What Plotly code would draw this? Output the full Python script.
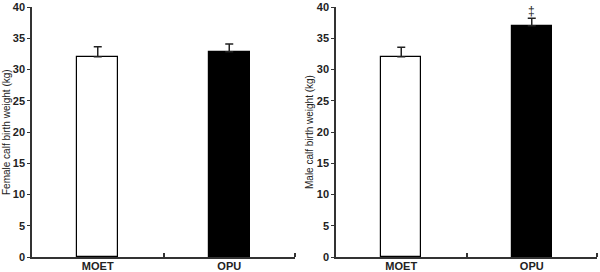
import plotly.graph_objects as go

categories = ["MOET", "OPU"]
female_means = [32.05, 32.85]
female_sem = [1.6, 1.25]
male_means = [32.05, 37.0]
male_sem = [1.5, 1.2]
bar_colors = ["white", "black"]
y_ticks = [0, 5, 10, 15, 20, 25, 30, 35, 40]
sig_label = "‡"

W, H = 600, 272
y_top_px, y_bot_px = 7, 257
ydom = [(H - y_bot_px) / H, (H - y_top_px) / H]
xdom1 = [32 / W, 295 / W]
xdom2 = [336 / W, 597 / W]

fig = go.Figure()
xs = list(range(len(categories)))
for i, (means, sem) in enumerate([(female_means, female_sem), (male_means, male_sem)]):
    fig.add_trace(go.Bar(
        x=xs, y=means, width=0.31,
        marker=dict(color=bar_colors, line=dict(color="black", width=1.2)),
        error_y=dict(type="data", array=sem, arrayminus=[0] * len(sem), symmetric=False,
                     color="#222", thickness=1.5, width=4),
        xaxis="x" if i == 0 else "x2", yaxis="y" if i == 0 else "y2",
        showlegend=False,
    ))

axis_common_x = dict(
    range=[-0.5, 1.5], tickmode="array", tickvals=xs, ticktext=categories,
    ticks="", showline=True, linecolor="#333", linewidth=1.5, showgrid=False, zeroline=False,
    tickfont=dict(family="Liberation Sans, Arial", size=11, color="#222", weight="bold"),
    ticklabelstandoff=-2,
    minor=dict(tickmode="array", tickvals=[0.5, 1.5], ticks="inside", ticklen=4,
               tickcolor="#333", tickwidth=1.5, showgrid=False),
    automargin=False, fixedrange=True,
)
axis_common_y = dict(
    range=[0, 40], tickmode="array", tickvals=y_ticks, ticks="outside", ticklen=3,
    tickcolor="#333", tickwidth=1.2, showline=True, linecolor="#333", linewidth=1.5,
    showgrid=False, zeroline=False, automargin=False,
    tickfont=dict(family="Liberation Sans, Arial", size=11, color="#222", weight="bold"),
)

fig.update_layout(
    width=W, height=H, margin=dict(l=0, r=0, t=0, b=0, autoexpand=False),
    paper_bgcolor="white", plot_bgcolor="white",
    xaxis=dict(domain=xdom1, anchor="y", **axis_common_x),
    yaxis=dict(domain=ydom, anchor="x", **axis_common_y),
    xaxis2=dict(domain=xdom2, anchor="y2", **axis_common_x),
    yaxis2=dict(domain=ydom, anchor="x2", **axis_common_y),
    bargap=0,
    annotations=[
        dict(text="Female calf birth weight (kg)", textangle=-90, xref="paper", yref="paper",
             x=6 / W, y=(H - 132) / H, xanchor="center", yanchor="middle", showarrow=False,
             font=dict(family="Liberation Sans, Arial", size=10, color="#222")),
        dict(text="Male calf birth weight (kg)", textangle=-90, xref="paper", yref="paper",
             x=309 / W, y=(H - 132) / H, xanchor="center", yanchor="middle", showarrow=False,
             font=dict(family="Liberation Sans, Arial", size=10, color="#222")),
        dict(text=sig_label, xref="x2", yref="y2", x=xs[1], y=male_means[1] + male_sem[1],
             yanchor="bottom", yshift=-2, showarrow=False,
             font=dict(family="Liberation Sans, Arial", size=12, color="#222")),
    ],
)

fig.write_html("out.html")
